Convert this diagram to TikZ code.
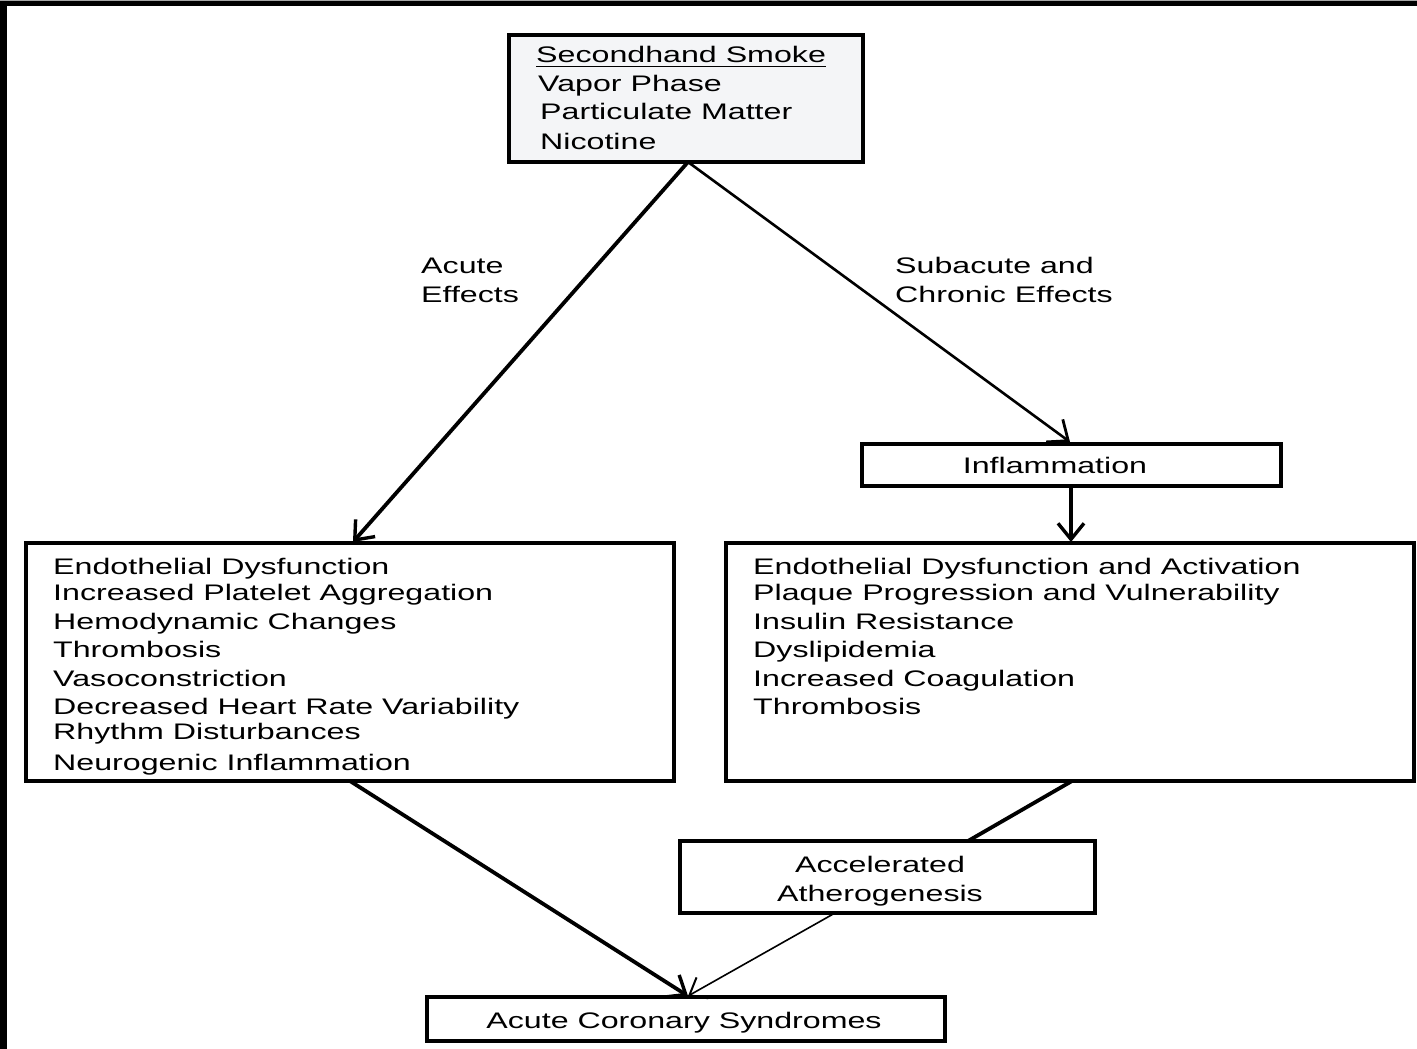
\documentclass[tikz,border=0pt]{standalone}
\usepackage{fontspec}
\setmainfont{Liberation Sans}[FakeStretch=1.43]
\usetikzlibrary{arrows.meta}
\definecolor{topfill}{HTML}{F4F5F7}
\tikzset{
  box/.style={draw=black, line width=3.2pt},
  txt/.style={inner sep=0pt, anchor=base west, font=\fontsize{22.5}{27}\selectfont},
  ctxt/.style={inner sep=0pt, anchor=base, font=\fontsize{22.5}{27}\selectfont},
  thickarrow/.style={line width=3.8pt, -{Straight Barb[length=16pt,width=26pt,line width=3.4pt]}},
  thinarrow/.style={line width=2.6pt, -{Straight Barb[length=17pt,width=28pt,line width=2.8pt]}},
  thickline/.style={line width=3.8pt},
}
\begin{document}
\begin{tikzpicture}[x=1pt,y=-1pt]
\useasboundingbox (0,0) rectangle (1417,1049);
\fill[white] (0,0) rectangle (1417,1049);
% frame edges
\fill[black] (0,0) rectangle (7,1049);
\fill[black] (0,0) rectangle (1417,6);
\fill[gray!70] (0,0) rectangle (1417,1.5);

% boxes
\draw[box, fill=topfill] (509,35) rectangle (863,162);
\coordinate (topB) at (688,162);
\draw[box] (862,444) rectangle (1281,486);
\coordinate (inflT) at (1070,442);
\coordinate (inflB) at (1071,486);
\draw[box] (26,543) rectangle (674,781);
\coordinate (leftT) at (353,542);
\coordinate (leftB) at (350,781);
\draw[box] (726,543) rectangle (1414,781);
\coordinate (rightT) at (1071,542);
\coordinate (rightB) at (1072,781);
\draw[box] (680,841) rectangle (1095,913);
\coordinate (accT) at (968,841);
\coordinate (accB) at (835,913);
\draw[box] (427,997) rectangle (945,1041);
\coordinate (acsT) at (688,996);

% top box text
\node[txt] (t1) at (536,63) {Secondhand Smoke};
\draw[line width=1.3pt] ([yshift=-3.5pt]t1.base west) -- ([yshift=-3.5pt]t1.base east);
\node[txt] (t2) at (538,92) {Vapor Phase};
\node[txt] (t3) at (540,120) {Particulate Matter};
\node[txt] (t4) at (540,149) {Nicotine};

% labels
\node[txt] (ae1) at (421,273) {Acute};
\node[txt] (ae2) at (421,302) {Effects};
\node[txt] (sc1) at (895,273) {Subacute and};
\node[txt] (sc2) at (895,302) {Chronic Effects};

\node[ctxt] (infl) at (1055,473) {Inflammation};

% left box text
\node[txt] (l1) at (53,574) {Endothelial Dysfunction};
\node[txt] (l2) at (53,600) {Increased Platelet Aggregation};
\node[txt] (l3) at (53,629) {Hemodynamic Changes};
\node[txt] (l4) at (53,657) {Thrombosis};
\node[txt] (l5) at (53,686) {Vasoconstriction};
\node[txt] (l6) at (53,714) {Decreased Heart Rate Variability};
\node[txt] (l7) at (53,739) {Rhythm Disturbances};
\node[txt] (l8) at (53,770) {Neurogenic Inflammation};

% right box text
\node[txt] (r1) at (753,574) {Endothelial Dysfunction and Activation};
\node[txt] (r2) at (753,600) {Plaque Progression and Vulnerability};
\node[txt] (r3) at (753,629) {Insulin Resistance};
\node[txt] (r4) at (753,657) {Dyslipidemia};
\node[txt] (r5) at (753,686) {Increased Coagulation};
\node[txt] (r6) at (753,714) {Thrombosis};

% accelerated
\node[ctxt] (a1) at (880,872) {Accelerated};
\node[ctxt] (a2) at (880,901) {Atherogenesis};

% ACS
\node[ctxt] (acs) at (684,1028) {Acute Coronary Syndromes};

% connectors
\draw[thickarrow] (topB) -- (leftT);
\draw[thinarrow] (topB) -- (inflT);
\draw[thickarrow] (inflB) -- (rightT);
\draw[thickline] (rightB) -- (accT);
\draw[thickarrow] (leftB) -- (acsT);
\draw[line width=1.6pt, -{Straight Barb[length=15pt,width=24pt,line width=2pt]}] (accB) -- (acsT);
\end{tikzpicture}
\end{document}
